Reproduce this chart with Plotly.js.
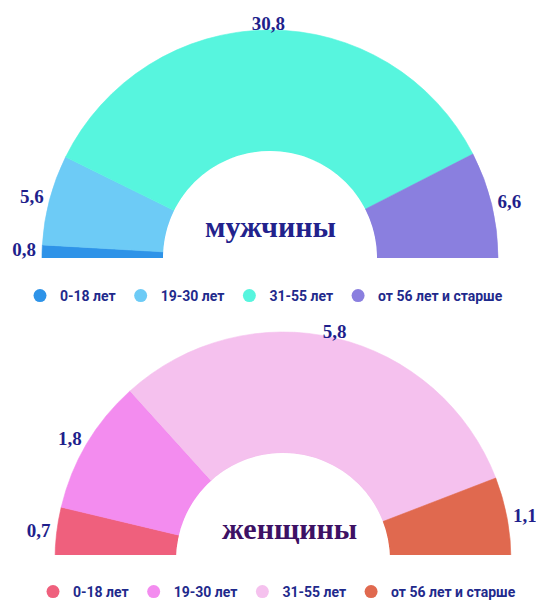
<!DOCTYPE html>
<html>
<head>
<meta charset="utf-8">
<script src="https://cdn.plot.ly/plotly-3.0.1.min.js"></script>
<style>
html,body{margin:0;padding:0;background:#fff;overflow:hidden;}
#chart{width:536px;height:600px;}
</style>
</head>
<body>
<div id="chart"></div>
<script>
// ---- data ----
const categories = ['0-18 лет', '19-30 лет', '31-55 лет', 'от 56 лет и старше'];
const menValues = [0.8, 5.6, 30.8, 6.6];
const womenValues = [0.7, 1.8, 5.8, 1.1];
const menTitle = 'мужчины';
const womenTitle = 'женщины';
const menColors = ['#2e93e8', '#6dcbf6', '#57f5de', '#8a7fdf'];
const womenColors = ['#ef607d', '#f38cef', '#f5c1ee', '#e0694f'];

// ---- geometry (pixels) ----
const W = 536, H = 600;
const R_OUT = 228, R_IN = 107, RMAX = 1.1;
const R_TOTAL = R_IN + (R_OUT - R_IN) * RMAX;
const HOLE = R_IN / R_TOTAL;
const labelFont = {family: '"Liberation Serif", "Times New Roman", serif', size: 19, color: '#1f1f8c', weight: 'bold'};

function halfDonut(values, colors, polarId, legendId) {
  const total = values.reduce((a, b) => a + b, 0);
  const traces = [];
  let cum = 0;
  const mids = [];
  values.forEach((v, i) => {
    const w = v / total * 180;
    const mid = cum + w / 2;
    mids.push(mid);
    traces.push({
      type: 'barpolar',
      subplot: polarId,
      r: [1],
      theta: [mid],
      width: [w],
      base: 0,
      marker: {color: colors[i], line: {color: colors[i], width: 0.6}},
      showlegend: false,
      hoverinfo: 'skip'
    });
    cum += w;
  });
  // value labels, placed just outside the ring
  const pos = mids.map(m => m < 70 ? 'middle left' : m <= 110 ? 'top center' : 'middle right');
  const textR = mids.map(m => (m < 70 || m > 110) ? 1 + 6 / (R_OUT - R_IN) : 1 - 5 / (R_OUT - R_IN));
  traces.push({
    type: 'scatterpolar',
    subplot: polarId,
    mode: 'text',
    r: textR,
    theta: mids,
    text: values.map(v => v.toFixed(1).replace('.', ',')),
    textfont: labelFont,
    textposition: pos,
    cliponaxis: false,
    showlegend: false,
    hoverinfo: 'skip'
  });
  // legend entries
  categories.forEach((c, i) => {
    traces.push({
      type: 'scatterpolar',
      subplot: polarId,
      mode: 'markers',
      r: [null],
      theta: [null],
      name: c,
      marker: {color: colors[i], size: 13, symbol: 'circle'},
      legend: legendId,
      showlegend: true,
      hoverinfo: 'skip'
    });
  });
  return traces;
}

const data = [].concat(
  halfDonut(menValues, menColors, 'polar', 'legend'),
  halfDonut(womenValues, womenColors, 'polar2', 'legend2')
);

function px2x(p) { return p / W; }
function px2y(p) { return (H - p) / H; }

function polarAt(cx, cy) {
  return {
    sector: [0, 180],
    hole: HOLE,
    bgcolor: 'rgba(0,0,0,0)',
    domain: {x: [px2x(cx - R_TOTAL), px2x(cx + R_TOTAL)], y: [px2y(cy), px2y(cy - R_TOTAL)]},
    radialaxis: {visible: false, range: [0, RMAX]},
    angularaxis: {visible: false, direction: 'clockwise', rotation: 180}
  };
}

const legendFont = {family: 'Roboto, "Open Sans", sans-serif', size: 14, color: '#1f2a8c', weight: 'bold'};

const layout = {
  width: W, height: H,
  margin: {l: 0, r: 0, t: 0, b: 0, autoexpand: false},
  paper_bgcolor: '#fff',
  plot_bgcolor: '#fff',
  polar: polarAt(270, 258),
  polar2: polarAt(283, 560),
  legend: {orientation: 'h', x: px2x(264), xanchor: 'center', y: px2y(296), yanchor: 'middle', font: legendFont, bgcolor: 'rgba(0,0,0,0)'},
  legend2: {orientation: 'h', x: px2x(277), xanchor: 'center', y: px2y(592), yanchor: 'middle', font: legendFont, bgcolor: 'rgba(0,0,0,0)'},
  shapes: [
    {type: 'rect', xref: 'paper', yref: 'paper', x0: 0, x1: 1, y0: 0, y1: px2y(555), fillcolor: '#fff', line: {width: 0}, layer: 'above'}
  ],
  annotations: [
    {text: menTitle, xref: 'paper', yref: 'paper', x: px2x(270), y: px2y(227), xanchor: 'center', yanchor: 'middle', showarrow: false,
     font: {family: '"Liberation Serif", "Times New Roman", serif', size: 30, color: '#22228c', weight: 'bold'}},
    {text: womenTitle, xref: 'paper', yref: 'paper', x: px2x(289), y: px2y(528), xanchor: 'center', yanchor: 'middle', showarrow: false,
     font: {family: '"Liberation Serif", "Times New Roman", serif', size: 30, color: '#3d1164', weight: 'bold'}}
  ],
  showlegend: true
};

Plotly.newPlot('chart', data, layout, {displayModeBar: false, staticPlot: true});
</script>
</body>
</html>
